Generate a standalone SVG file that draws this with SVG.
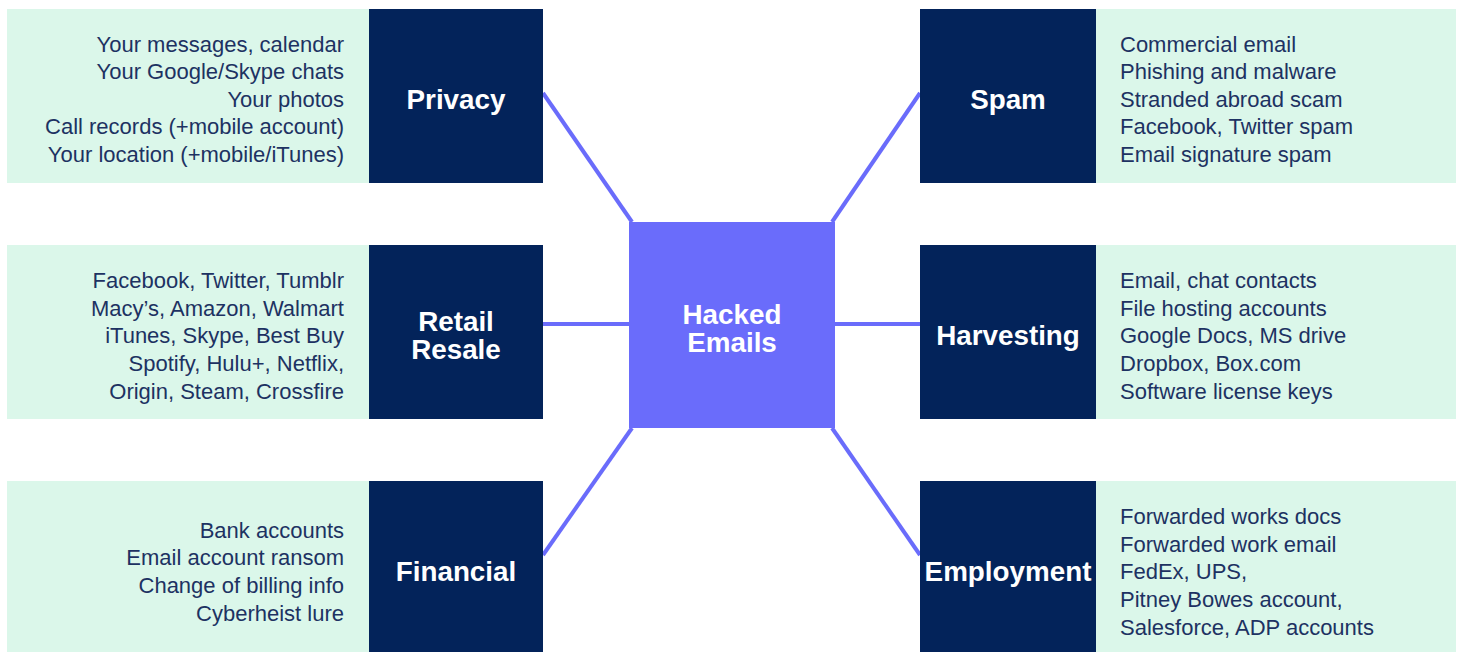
<svg xmlns="http://www.w3.org/2000/svg" width="1460" height="652" viewBox="0 0 1460 652">
<style>
.panel{fill:#dbf7ea}
.dark{fill:#03235a}
.hub{fill:#6a6cfb}
.body{font-family:"Liberation Sans",Arial,sans-serif;font-size:22px;fill:#1d3262}
.r{text-anchor:end}
.lbl{font-family:"Liberation Sans",Arial,sans-serif;font-size:27.8px;font-weight:bold;fill:#ffffff;text-anchor:middle}
.conn{stroke:#6a6cfb;stroke-width:4;fill:none}
</style>
<rect width="1460" height="652" fill="#ffffff"/>
<g id="connectors">
<line class="conn" x1="543" y1="93" x2="632" y2="222"/>
<line class="conn" x1="543" y1="324" x2="629" y2="324"/>
<line class="conn" x1="543" y1="555" x2="632" y2="428"/>
<line class="conn" x1="920" y1="93" x2="832" y2="222"/>
<line class="conn" x1="835" y1="324" x2="920" y2="324"/>
<line class="conn" x1="920" y1="555" x2="832" y2="428"/>
</g>
<g id="hub">
<rect class="hub" x="629" y="222" width="206" height="206"/>
<text class="lbl" x="732" y="324">Hacked</text>
<text class="lbl" x="732" y="352">Emails</text>
</g>
<g id="privacy">
<rect class="panel" x="7" y="9" width="362" height="174"/>
<rect class="dark" x="369" y="9" width="174" height="174"/>
<text class="lbl" x="456" y="109">Privacy</text>
<text class="body r" x="344" y="52">Your messages, calendar</text>
<text class="body r" x="344" y="79">Your Google/Skype chats</text>
<text class="body r" x="344" y="107">Your photos</text>
<text class="body r" x="344" y="134">Call records (+mobile account)</text>
<text class="body r" x="344" y="162">Your location (+mobile/iTunes)</text>
</g>
<g id="retail">
<rect class="panel" x="7" y="245" width="362" height="174"/>
<rect class="dark" x="369" y="245" width="174" height="174"/>
<text class="lbl" x="456" y="331">Retail</text>
<text class="lbl" x="456" y="359">Resale</text>
<text class="body r" x="344" y="288">Facebook, Twitter, Tumblr</text>
<text class="body r" x="344" y="316">Macy’s, Amazon, Walmart</text>
<text class="body r" x="344" y="343">iTunes, Skype, Best Buy</text>
<text class="body r" x="344" y="371">Spotify, Hulu+, Netflix,</text>
<text class="body r" x="344" y="399">Origin, Steam, Crossfire</text>
</g>
<g id="financial">
<rect class="panel" x="7" y="481" width="362" height="171"/>
<rect class="dark" x="369" y="481" width="174" height="171"/>
<text class="lbl" x="456" y="581">Financial</text>
<text class="body r" x="344" y="538">Bank accounts</text>
<text class="body r" x="344" y="565">Email account ransom</text>
<text class="body r" x="344" y="593">Change of billing info</text>
<text class="body r" x="344" y="621">Cyberheist lure</text>
</g>
<g id="spam">
<rect class="panel" x="1096" y="9" width="360" height="174"/>
<rect class="dark" x="920" y="9" width="176" height="174"/>
<text class="lbl" x="1008" y="109">Spam</text>
<text class="body" x="1120" y="52">Commercial email</text>
<text class="body" x="1120" y="79">Phishing and malware</text>
<text class="body" x="1120" y="107">Stranded abroad scam</text>
<text class="body" x="1120" y="134">Facebook, Twitter spam</text>
<text class="body" x="1120" y="162">Email signature spam</text>
</g>
<g id="harvesting">
<rect class="panel" x="1096" y="245" width="360" height="174"/>
<rect class="dark" x="920" y="245" width="176" height="174"/>
<text class="lbl" x="1008" y="345">Harvesting</text>
<text class="body" x="1120" y="288">Email, chat contacts</text>
<text class="body" x="1120" y="316">File hosting accounts</text>
<text class="body" x="1120" y="343">Google Docs, MS drive</text>
<text class="body" x="1120" y="371">Dropbox, Box.com</text>
<text class="body" x="1120" y="399">Software license keys</text>
</g>
<g id="employment">
<rect class="panel" x="1096" y="481" width="360" height="171"/>
<rect class="dark" x="920" y="481" width="176" height="171"/>
<text class="lbl" x="1008" y="581">Employment</text>
<text class="body" x="1120" y="524">Forwarded works docs</text>
<text class="body" x="1120" y="552">Forwarded work email</text>
<text class="body" x="1120" y="579">FedEx, UPS,</text>
<text class="body" x="1120" y="607">Pitney Bowes account,</text>
<text class="body" x="1120" y="635">Salesforce, ADP accounts</text>
</g>
</svg>
